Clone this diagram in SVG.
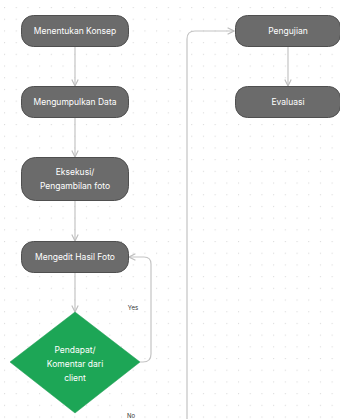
<svg xmlns="http://www.w3.org/2000/svg" width="340" height="419" viewBox="0 0 340 419">
<defs>
<pattern id="dots" x="4" y="7" width="11.7" height="11.7" patternUnits="userSpaceOnUse">
<circle cx="0.6" cy="0.6" r="0.6" fill="#d4d4d4"/>
</pattern>
<marker id="arr" viewBox="0 0 10 10" refX="9" refY="5" markerWidth="8" markerHeight="8" markerUnits="userSpaceOnUse" orient="auto">
<path d="M1,1 L9,5 L1,9" fill="none" stroke="#bdbdbd" stroke-width="1.4"/>
</marker>
<style>
.node rect{fill:#6b6b6b;stroke:#4f4f4f;stroke-width:1}
.node text,.dec text{font-family:Inter,"Liberation Sans",sans-serif;font-size:8.5px;fill:#ffffff;text-anchor:middle;dominant-baseline:central}
.dec polygon{fill:#1da656;stroke:#1a9a50;stroke-width:0.5}
.conn path{fill:none;stroke:#c4c4c4;stroke-width:1.2}
.lbl{font-family:Inter,"Liberation Sans",sans-serif;font-size:6px;fill:#333333;text-anchor:middle}
</style>
</defs>
<rect width="340" height="419" fill="#ffffff"/>
<rect width="340" height="419" fill="url(#dots)"/>
<g id="connectors" class="conn">
<path d="M75 47 V86" marker-end="url(#arr)"/>
<path d="M75 117 V157" marker-end="url(#arr)"/>
<path d="M75 200 V241" marker-end="url(#arr)"/>
<path d="M75 272 V312" marker-end="url(#arr)"/>
<path d="M140 362 H143 Q151 362 151 354 V264 Q151 257 144 257 H129" marker-end="url(#arr)"/>
<path d="M187 419 V39 Q187 31 195 31 H234" marker-end="url(#arr)"/>
<path d="M288 47 V86" marker-end="url(#arr)"/>
<text class="lbl" x="133" y="310">Yes</text>
<text class="lbl" x="131" y="418">No</text>
</g>
<g id="n1" class="node"><rect x="21.5" y="15.5" width="107" height="31" rx="12"/><text x="75" y="31">Menentukan Konsep</text></g>
<g id="n2" class="node"><rect x="21.5" y="86.5" width="107" height="31" rx="12"/><text x="75" y="102">Mengumpulkan Data</text></g>
<g id="n3" class="node"><rect x="21.5" y="157.5" width="107" height="43" rx="14"/><text x="75" y="172">Eksekusi/</text><text x="75" y="186">Pengambilan foto</text></g>
<g id="n4" class="node"><rect x="21.5" y="241.5" width="107" height="31" rx="12"/><text x="75" y="257">Mengedit Hasil Foto</text></g>
<g id="n5" class="dec"><polygon points="75,312 140,362 75,413 10,362"/><text x="75" y="350">Pendapat/</text><text x="75" y="364">Komentar dari</text><text x="75" y="378">client</text></g>
<g id="n6" class="node"><rect x="235.5" y="15.5" width="105" height="31" rx="12"/><text x="288" y="31">Pengujian</text></g>
<g id="n7" class="node"><rect x="235.5" y="86.5" width="105" height="31" rx="12"/><text x="288" y="102">Evaluasi</text></g>
</svg>
